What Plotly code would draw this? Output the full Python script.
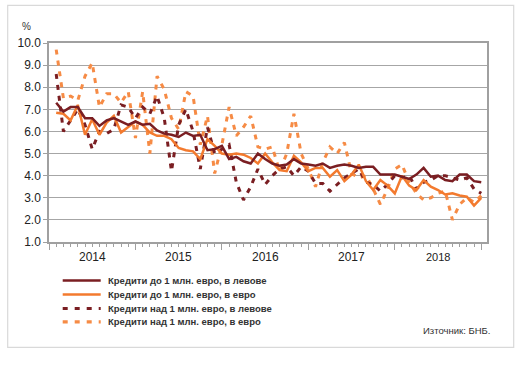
import plotly.graph_objects as go

# month positions (1 = first month shown)
months = list(range(1, 61))
year_labels = ["2014", "2015", "2016", "2017", "2018"]
year_centers = [6, 18, 30, 42, 54]
year_bounds = [0, 12, 24, 36, 48, 60]

lev_small = [7.3, 6.9, 7.1, 7.1, 6.6, 6.6, 6.25, 6.5, 6.6, 6.45,
             6.3, 6.45, 6.3, 6.35, 6.05, 5.9, 5.85, 5.75, 5.95, 5.8,
             5.85, 5.15, 5.2, 5.35, 4.75, 4.85, 4.65, 4.55, 5.0, 4.75,
             4.55, 4.45, 4.5, 4.75, 4.55, 4.5, 4.45, 4.55, 4.35, 4.45,
             4.5, 4.45, 4.35, 4.4, 4.4, 4.05, 4.05, 4.05, 3.95, 3.85,
             4.05, 4.35, 3.95, 4.0, 3.8, 3.75, 4.05, 4.05, 3.75, 3.7]

eur_small = [6.85, 6.8, 6.5, 7.2, 5.85, 6.55, 5.85, 6.4, 6.7, 5.95,
             6.2, 6.45, 6.3, 5.95, 5.8, 5.8, 5.65, 5.25, 5.15, 5.1,
             4.75, 5.65, 5.35, 5.0, 4.95, 5.0, 4.95, 4.8, 4.55, 5.0,
             4.6, 4.25, 4.2, 4.9, 4.6, 4.2, 4.35, 4.35, 3.95, 4.25,
             3.75, 4.05, 4.5, 3.75, 3.35, 3.8, 3.55, 3.2, 4.0, 3.55,
             3.35, 3.8, 3.5, 3.35, 3.15, 3.2, 3.1, 3.05, 2.65, 3.0]

lev_large = [8.6, 6.0, 6.5, 7.0, 6.3, 5.2, 6.0, 5.9, 6.1, 7.2,
             7.1, 6.6, 7.1, 6.8, 7.6, 6.6, 4.2, 6.3, 7.0, 6.0,
             4.3, 6.2, 5.0, 5.2, 5.4, 3.7, 2.9, 3.5, 4.3, 3.6,
             4.0, 4.3, 4.4, 4.0, 4.4, 4.2, 3.65, 3.65, 3.3, 3.6,
             3.9, 4.1, 4.3, 3.7, 3.6, 3.3, 3.6, 4.0, 3.9, 4.0,
             3.4, 3.7, 3.8, 4.0, 4.0, 3.9, 3.8, 3.9, 3.4, 3.2]

eur_large = [9.7, 7.5, 7.6, 7.4, 8.5, 9.1, 7.1, 7.7, 7.7, 7.3,
             7.8, 5.7, 7.8, 5.0, 8.5, 7.9, 6.6, 6.1, 7.8, 7.6,
             5.4, 6.7, 4.1, 5.4, 7.1, 5.8, 6.2, 6.7, 5.3, 5.2,
             5.3, 4.2, 5.0, 6.8, 5.0, 4.3, 3.5, 4.6, 5.3, 5.0,
             5.5, 4.1, 3.9, 4.0, 3.4, 2.7, 3.4, 4.3, 4.5, 3.7,
             3.2, 2.9, 3.0, 3.2, 3.3, 2.0, 2.7, 3.0, 2.8, 3.1]

names = ["Кредити до 1 млн. евро, в левове",
         "Кредити до 1 млн. евро, в евро",
         "Кредити над 1 млн. евро, в левове",
         "Кредити над 1 млн. евро, в евро"]

MAROON = "#7A1E22"
ORANGE = "#F37A2E"
ORANGE_D = "#F68B45"

styles = [(MAROON, "solid", 2.5), (ORANGE, "solid", 2.5),
          (MAROON, "5px,6px", 3), (ORANGE_D, "5px,6px", 3)]
series = [lev_small, eur_small, lev_large, eur_large]
order = [3, 2, 1, 0]  # draw dashed first, solids on top

fig = go.Figure()
for k in order:
    c, d, w = styles[k]
    fig.add_trace(go.Scatter(x=months, y=series[k], mode="lines", name=names[k],
                             line=dict(color=c, dash=d, width=w),
                             showlegend=False))

FONT = "Liberation Sans, Arial, sans-serif"

fig.update_layout(
    width=528, height=365,
    margin=dict(l=49, r=41, t=43, b=123),
    paper_bgcolor="white", plot_bgcolor="white",
    font=dict(family=FONT, color="#222"),
    showlegend=False,
)
fig.update_xaxes(range=[0, 60.8], tickmode="array", tickvals=year_bounds,
                 showticklabels=False, ticks="outside", ticklen=6, tickcolor="#A0A0A0",
                 tickwidth=1.3,
                 minor=dict(tickmode="linear", tick0=0, dtick=1, ticks="outside", ticklen=3,
                            tickcolor="#A0A0A0", showgrid=False),
                 showgrid=False, showline=True, linecolor="#A0A0A0", linewidth=1.5,
                 mirror=True, zeroline=False)
fig.update_yaxes(range=[1, 10], dtick=1, tick0=1, tickformat=".1f",
                 tickfont=dict(size=12, color="#222"),
                 ticks="outside", ticklen=4, tickcolor="#A0A0A0",
                 showgrid=True, gridcolor="#A6A6A6", gridwidth=1.3,
                 showline=True, linecolor="#A0A0A0", linewidth=1.5, mirror=True,
                 zeroline=False)

# year labels
for lab, xc in zip(year_labels, year_centers):
    fig.add_annotation(x=xc, y=-0.075, xref="x", yref="paper", text=lab,
                       showarrow=False, yanchor="middle",
                       font=dict(size=12 if lab != "2018" else 11, family=FONT, color="#222"))

# percent sign
fig.add_annotation(x=-0.051, y=1.084, xref="paper", yref="paper", text="%",
                   showarrow=False, yanchor="middle", xanchor="center",
                   font=dict(size=10, family=FONT, color="#333"))

# manual legend
PW, PH = 438.0, 199.6
def px(xp):
    return (xp - 49.3) / PW
def py(yp):
    return (242.3 - yp) / PH

leg_rows = [281, 295, 309, 322.5]
for k, yrow in enumerate(leg_rows):
    c, d, w = styles[k]
    fig.add_shape(type="line", xref="paper", yref="paper",
                  x0=px(63), x1=px(101), y0=py(yrow), y1=py(yrow),
                  line=dict(color=c, width=w if d == "solid" else 3.2,
                            dash="solid" if d == "solid" else "5px,7px"))
    fig.add_annotation(x=px(106), y=py(yrow), xref="paper", yref="paper",
                       text="<b>" + names[k] + "</b>", showarrow=False,
                       xanchor="left", yanchor="middle",
                       font=dict(size=9.5, family=FONT, color="#333"))

fig.add_annotation(x=px(492), y=py(331), xref="paper", yref="paper",
                   text="Източник: БНБ.", showarrow=False, xanchor="right",
                   yanchor="middle", font=dict(size=9.5, family=FONT, color="#333"))

# outer border
fig.add_shape(type="rect", xref="paper", yref="paper",
              x0=px(8), x1=px(514), y0=py(348), y1=py(5),
              line=dict(color="#D9D9D9", width=1.2), fillcolor="rgba(0,0,0,0)")

fig.write_html("out.html", config={"displayModeBar": False},
               post_script="document.body.style.margin='0px';document.body.style.padding='0px';")
